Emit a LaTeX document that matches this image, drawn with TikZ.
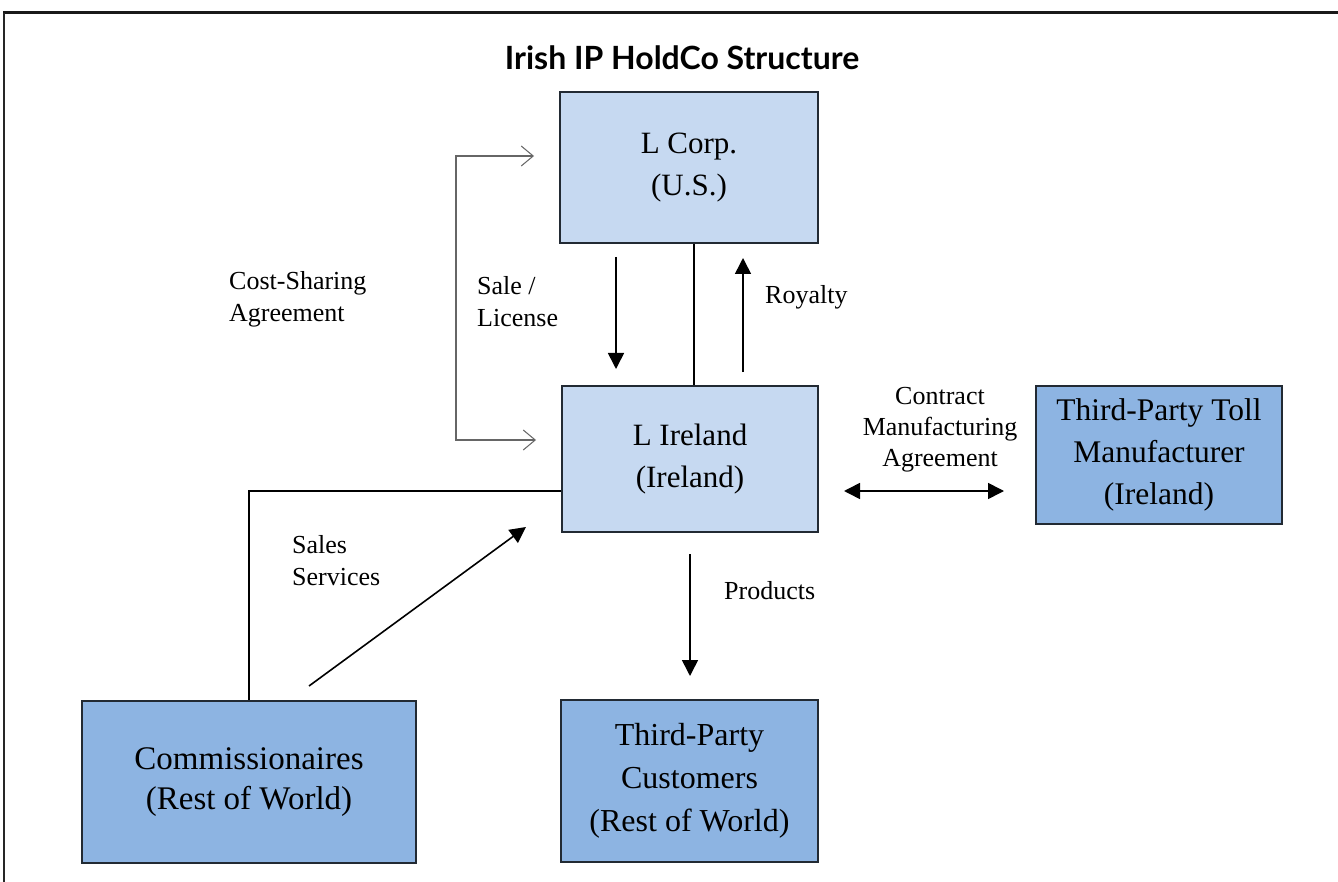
\documentclass[tikz,border=0pt]{standalone}
\usepackage{fontspec}
\setmainfont{Liberation Serif}
\newfontfamily\titlefont{Lato}
\usetikzlibrary{arrows.meta}
\definecolor{lightbox}{HTML}{C6D9F1}
\definecolor{darkbox}{HTML}{8DB4E2}
\definecolor{boxedge}{HTML}{222A33}
\tikzset{
  boxbase/.style={draw=boxedge, line width=2pt, align=center, inner sep=0pt,
    font=\fontsize{31}{42}\selectfont},
  lightnode/.style={boxbase, fill=lightbox},
  darknode/.style={boxbase, fill=darkbox},
  lbl/.style={font=\fontsize{26}{32}\selectfont, inner sep=0pt},
  conn/.style={line width=1.6pt, black},
  flow/.style={line width=1.6pt, black, -{Triangle[length=16pt,width=16pt]}},
  bothflow/.style={line width=1.6pt, black, {Triangle[length=16pt,width=16pt]}-{Triangle[length=16pt,width=16pt]}},
  costarr/.style={line width=1.3pt, gray!80!black, {Straight Barb[length=12pt,width=20pt,line width=1pt]}-{Straight Barb[length=12pt,width=20pt,line width=1pt]}},
}
\begin{document}
\begin{tikzpicture}[x=1pt,y=-1pt]
\useasboundingbox (0,0) rectangle (1338,882);
\fill[white] (0,0) rectangle (1338,882);
% frame
\draw[line width=3pt, black!90] (3,13) -- (1338,13);
\draw[line width=1.6pt, black!85] (4,13) -- (4,882);

% title
\node[font=\titlefont\bfseries\fontsize{32}{36}\selectfont] (title) at (682,58) {Irish IP HoldCo Structure};

% boxes
\node[lightnode, minimum width=258pt, minimum height=151pt] (lcorp) at (689,167.5) {L Corp.\\(U.S.)};
\node[lightnode, minimum width=256pt, minimum height=146pt] (lireland) at (690,459) {L Ireland\\(Ireland)};
\node[darknode, minimum width=246pt, minimum height=138pt, font=\fontsize{31.5}{42}\selectfont] (toll) at (1159,455) {Third-Party Toll\\Manufacturer\\(Ireland)};
\node[darknode, minimum width=334pt, minimum height=162pt, font=\fontsize{33}{40}\selectfont] (comm) at (249,782) {Commissionaires\\(Rest of World)};
\node[darknode, minimum width=257pt, minimum height=162pt, font=\fontsize{32}{43}\selectfont] (cust) at (689.5,781) {Third-Party\\Customers\\(Rest of World)};

% helper coordinates
\coordinate (cstop) at (456,156);
\coordinate (csbot) at (456,440);
\coordinate (cmid) at (249,491);

% L Corp -- L Ireland line
\draw[conn] ([xshift=5pt]lcorp.south) -- ([xshift=5pt]lcorp.south |- lireland.north);
% Sale / License
\draw[flow] ([xshift=-73pt,yshift=-13pt]lcorp.south) -- ([xshift=-73pt,yshift=16pt]lcorp.south |- lireland.north);
% Royalty
\draw[flow] ([xshift=54pt,yshift=13pt]lcorp.south |- lireland.north) -- ([xshift=54pt,yshift=-14pt]lcorp.south);
% Cost sharing bracket
\draw[costarr] ([xshift=-25pt]lcorp.west |- cstop) -- (cstop) -- (csbot) -- ([xshift=-25pt]lireland.west |- csbot);
% Commissionaires line
\draw[conn] (lireland.west |- cmid) -- (cmid) -- (comm.north);
% Sales services
\draw[flow] ([xshift=60pt,yshift=14pt]comm.north) -- ([xshift=-35pt,yshift=6pt]lireland.south west);
% Products
\draw[flow] ([yshift=-21pt]lireland.south) -- ([yshift=23pt]lireland.south |- cust.north);
% Contract manufacturing
\draw[bothflow] ([xshift=25pt]lireland.east |- cmid) -- ([xshift=-31pt]toll.west |- cmid);

% labels
\node[lbl, anchor=west, align=left] (lcs) at (229,299.5) {Cost-Sharing\\Agreement};
\node[lbl, anchor=west, align=left] (lsl) at (477,301.5) {Sale /\\License};
\node[lbl, anchor=west] (lroy) at (765,297) {Royalty};
\node[lbl, align=center, font=\fontsize{26}{31}\selectfont] (lcma) at (940,430) {Contract\\Manufacturing\\Agreement};
\node[lbl, anchor=west, align=left] (lss) at (292,560.5) {Sales\\Services};
\node[lbl, anchor=west] (lprod) at (724,591) {Products};
\end{tikzpicture}
\end{document}
